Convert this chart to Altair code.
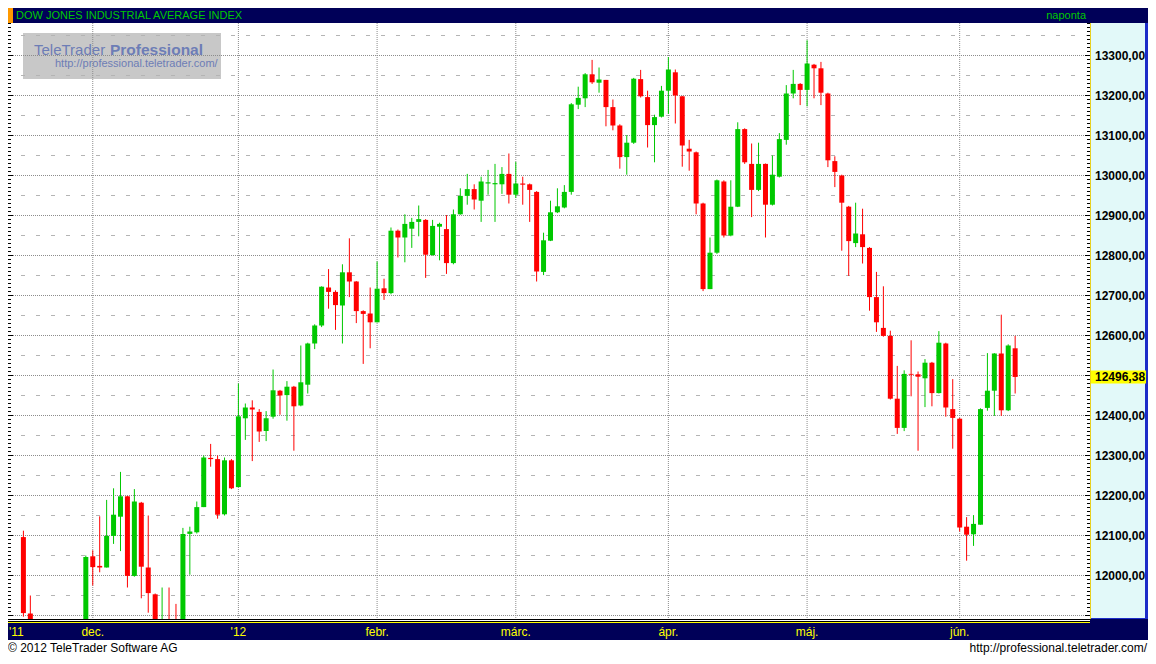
import altair as alt
import pandas as pd

# ---------------- data ----------------
dates = [
    "2011-11-16", "2011-11-17", "2011-11-18", "2011-11-21", "2011-11-22", "2011-11-23", "2011-11-25",
    "2011-11-28", "2011-11-29", "2011-11-30",
    "2011-12-01", "2011-12-02", "2011-12-05", "2011-12-06", "2011-12-07", "2011-12-08", "2011-12-09",
    "2011-12-12", "2011-12-13", "2011-12-14", "2011-12-15", "2011-12-16", "2011-12-19", "2011-12-20",
    "2011-12-21", "2011-12-22", "2011-12-23", "2011-12-27", "2011-12-28", "2011-12-29", "2011-12-30",
    "2012-01-03", "2012-01-04", "2012-01-05", "2012-01-06", "2012-01-09", "2012-01-10", "2012-01-11",
    "2012-01-12", "2012-01-13", "2012-01-17", "2012-01-18", "2012-01-19", "2012-01-20", "2012-01-23",
    "2012-01-24", "2012-01-25", "2012-01-26", "2012-01-27", "2012-01-30", "2012-01-31",
    "2012-02-01", "2012-02-02", "2012-02-03", "2012-02-06", "2012-02-07", "2012-02-08", "2012-02-09",
    "2012-02-10", "2012-02-13", "2012-02-14", "2012-02-15", "2012-02-16", "2012-02-17", "2012-02-21",
    "2012-02-22", "2012-02-23", "2012-02-24", "2012-02-27", "2012-02-28", "2012-02-29",
    "2012-03-01", "2012-03-02", "2012-03-05", "2012-03-06", "2012-03-07", "2012-03-08", "2012-03-09",
    "2012-03-12", "2012-03-13", "2012-03-14", "2012-03-15", "2012-03-16", "2012-03-19", "2012-03-20",
    "2012-03-21", "2012-03-22", "2012-03-23", "2012-03-26", "2012-03-27", "2012-03-28", "2012-03-29",
    "2012-03-30",
    "2012-04-02", "2012-04-03", "2012-04-04", "2012-04-05", "2012-04-09", "2012-04-10", "2012-04-11",
    "2012-04-12", "2012-04-13", "2012-04-16", "2012-04-17", "2012-04-18", "2012-04-19", "2012-04-20",
    "2012-04-23", "2012-04-24", "2012-04-25", "2012-04-26", "2012-04-27", "2012-04-30",
    "2012-05-01", "2012-05-02", "2012-05-03", "2012-05-04", "2012-05-07", "2012-05-08", "2012-05-09",
    "2012-05-10", "2012-05-11", "2012-05-14", "2012-05-15", "2012-05-16", "2012-05-17", "2012-05-18",
    "2012-05-21", "2012-05-22", "2012-05-23", "2012-05-24", "2012-05-25", "2012-05-29", "2012-05-30",
    "2012-05-31",
    "2012-06-01", "2012-06-04", "2012-06-05", "2012-06-06", "2012-06-07", "2012-06-08", "2012-06-11",
    "2012-06-12", "2012-06-13",
]

opens = [
    12096, 11905, 11770, 11794, 11545, 11490, 11258, 11232, 11518, 11559,
    12048, 12024, 12020, 12099, 12147, 12198, 11999, 12182, 12020, 11953, 11826, 11870, 11866, 11769,
    12104, 12108, 12171, 12294, 12291, 12153, 12288,
    12221, 12393, 12420, 12409, 12361, 12397, 12462, 12451, 12472, 12425, 12477, 12580, 12625, 12720,
    12709, 12675, 12758, 12735, 12661, 12655,
    12633, 12718, 12706, 12862, 12845, 12867, 12884, 12889, 12801, 12872, 12866, 12781, 12903, 12949,
    12966, 12937, 12980, 12978, 12978, 13004,
    12952, 12980, 12978, 12959, 12759, 12837, 12908, 12920, 12959, 13177, 13193, 13253, 13232, 13239,
    13171, 13125, 13046, 13082, 13241, 13196, 13126, 13147,
    13212, 13258, 13198, 13067, 13058, 12930, 12716, 12807, 12985, 12850, 12922, 13116, 13029, 12964,
    13029, 12927, 12997, 13089, 13205, 13229,
    13214, 13277, 13268, 13205, 13036, 13000, 12922, 12831, 12853, 12819, 12696, 12619, 12599, 12442,
    12369, 12504, 12503, 12493, 12532, 12456, 12580, 12416,
    12392, 12122, 12103, 12127, 12419, 12462, 12555, 12413, 12568,
]

highs = [
    12112, 11950, 11856, 11794, 11578, 11490, 11362, 11555, 11618, 12050,
    12063, 12148, 12189, 12218, 12259, 12199, 12216, 12184, 12150, 11955, 11970, 11970, 11929, 12119,
    12122, 12185, 12300, 12329, 12300, 12295, 12291,
    12480, 12430, 12438, 12416, 12411, 12515, 12464, 12486, 12474, 12575, 12582, 12628, 12723, 12766,
    12713, 12778, 12843, 12736, 12663, 12720,
    12785, 12742, 12870, 12865, 12903, 12894, 12925, 12891, 12889, 12882, 12901, 12915, 12968, 13004,
    12978, 12997, 13014, 13029, 13021, 13055,
    13034, 12997, 12980, 12961, 12857, 12937, 12968, 12976, 13181, 13222, 13256, 13289, 13270, 13239,
    13190, 13128, 13101, 13244, 13264, 13212, 13152, 13224,
    13296, 13265, 13199, 13089, 13060, 12932, 12845, 12990, 12988, 12988, 13133, 13118, 13080, 13082,
    13030, 13050, 13106, 13226, 13264, 13231,
    13338, 13279, 13284, 13207, 13048, 13002, 12924, 12932, 12917, 12821, 12759, 12723, 12612, 12524,
    12513, 12588, 12510, 12541, 12534, 12611, 12582, 12491,
    12394, 12146, 12151, 12418, 12556, 12556, 12652, 12578, 12599,
]

lows = [
    11897, 11735, 11758, 11456, 11453, 11256, 11231, 11232, 11475, 11559,
    11975, 12008, 12020, 12079, 12061, 11970, 11997, 11943, 11907, 11800, 11820, 11855, 11735, 11769,
    12002, 12105, 12171, 12272, 12142, 12150, 12216,
    12221, 12339, 12286, 12334, 12336, 12392, 12402, 12387, 12312, 12423, 12455, 12566, 12621, 12667,
    12614, 12580, 12696, 12631, 12529, 12568,
    12633, 12689, 12703, 12795, 12783, 12819, 12848, 12744, 12800, 12788, 12754, 12778, 12902, 12927,
    12915, 12884, 12952, 12884, 12954, 12930,
    12944, 12927, 12884, 12735, 12751, 12836, 12906, 12918, 12952, 13166, 13171, 13229, 13207, 13123,
    13113, 13017, 13002, 13079, 13195, 13070, 13033, 13145,
    13154, 13130, 13022, 13012, 12903, 12711, 12716, 12804, 12845, 12848, 12921, 13029, 12896, 12961,
    12845, 12925, 12995, 13077, 13193, 13176,
    13173, 13193, 13176, 13021, 12971, 12812, 12749, 12821, 12780, 12662, 12609, 12597, 12440, 12354,
    12361, 12448, 12312, 12421, 12423, 12455, 12397, 12317,
    12110, 12037, 12074, 12127, 12412, 12399, 12399, 12411, 12455,
]

closes = [
    11906, 11770, 11796, 11547, 11493, 11258, 11232, 11523, 11556, 12046,
    12021, 12020, 12099, 12152, 12198, 11999, 12185, 12022, 11956, 11824, 11869, 11866, 11766, 12104,
    12110, 12171, 12295, 12291, 12152, 12288, 12218,
    12398, 12420, 12415, 12360, 12393, 12463, 12450, 12472, 12423, 12483, 12580, 12625, 12722, 12709,
    12676, 12758, 12735, 12661, 12654, 12633,
    12717, 12706, 12862, 12845, 12879, 12884, 12891, 12802, 12874, 12879, 12781, 12903, 12949, 12966,
    12940, 12985, 12983, 12981, 13004, 12952,
    12980, 12977, 12964, 12760, 12838, 12908, 12923, 12959, 13178, 13194, 13253, 13233, 13240, 13171,
    13125, 13046, 13082, 13242, 13198, 13126, 13146, 13212,
    13265, 13200, 13075, 13060, 12930, 12716, 12807, 12988, 12850, 12922, 13116, 13033, 12964, 13029,
    12927, 13002, 13091, 13205, 13229, 13214,
    13280, 13268, 13207, 13038, 13009, 12932, 12836, 12855, 12821, 12696, 12633, 12599, 12442, 12369,
    12504, 12502, 12497, 12532, 12456, 12582, 12420, 12394,
    12120, 12102, 12129, 12416, 12462, 12555, 12413, 12575, 12496.38,
]

month_start_dates = ["2011-12-01", "2012-01-03", "2012-02-01", "2012-03-01",
                     "2012-04-02", "2012-05-01", "2012-06-01"]
month_names = ["dec.", "'12", "febr.", "márc.", "ápr.", "máj.", "jún."]
first_year_label = "'11"

y_label_values = [12000, 12100, 12200, 12300, 12400, 12600, 12700, 12800,
                  12900, 13000, 13100, 13200, 13300]
major_grid_values = [11900, 12000, 12100, 12200, 12300, 12400, 12500, 12600,
                     12700, 12800, 12900, 13000, 13100, 13200, 13300]
minor_grid_values = [11950, 12050, 12150, 12250, 12350, 12450, 12550, 12650,
                     12750, 12850, 12950, 13050, 13150, 13250, 13350]
last_value_label = "12496,38"

title_text = "DOW JONES INDUSTRIAL AVERAGE INDEX"
period_text = "naponta"
footer_left = "© 2012 TeleTrader Software AG"
footer_right = "http://professional.teletrader.com/"
wm_brand = "TeleTrader"
wm_product = "Professional"
wm_url = "http://professional.teletrader.com/"

# ---------------- layout / style ----------------
W, H = 1082, 596
PANEL = 58
TOP, BOTTOM = 15, 37
TW = W + PANEL

NAVY = "#000058"
GREEN = "#00c800"
RED = "#ff0000"
YELLOW = "#ffff00"
CYAN = "#e2f9f9"
BLUE = "#1c2cc8"
GRID = "#8c8c8c"
GRID2 = "#b4b4b4"
FONT = "Liberation Sans"

PX_PER_DAY = 7.0
PX_PER_UNIT = 0.4
x_scale = alt.Scale(domain=[-1.5, -1.5 + W / PX_PER_DAY], nice=False, zero=False)
y_top = 13381.25
y_scale = alt.Scale(domain=[y_top - H / PX_PER_UNIT, y_top], nice=False, zero=False)

df = pd.DataFrame({"date": dates, "open": opens, "high": highs, "low": lows, "close": closes})
df["i"] = range(len(df))
df["lo"] = df[["open", "close"]].min(axis=1)
df["hi"] = df[["open", "close"]].max(axis=1)
df["dir"] = ["up" if c >= o else "down" for o, c in zip(df["open"], df["close"])]

color = alt.Color("dir:N", scale=alt.Scale(domain=["up", "down"], range=[GREEN, RED]), legend=None)
X = alt.X("i:Q", scale=x_scale, axis=None)

one = pd.DataFrame({"k": [0]})


def box(x0, x1, y0, y1, col):
    return alt.Chart(one).mark_rect(color=col).encode(
        x=alt.value(x0), x2=alt.value(x1), y=alt.value(y0), y2=alt.value(y1))


def text(s, x, y, col, size, align="left", weight="normal", baseline="middle"):
    return alt.Chart(pd.DataFrame({"t": [s]})).mark_text(
        align=align, baseline=baseline, font=FONT, fontSize=size, fontWeight=weight, color=col
    ).encode(x=alt.value(x), y=alt.value(y), text="t:N")


layers = []

# watermark
layers.append(box(15, 213, 10, 56, "#c8c8c8"))
layers.append(text(wm_brand, 26, 32, "#6d7db6", 15, baseline="alphabetic"))
layers.append(text(wm_product, 102, 32, "#6d7db6", 15.5, weight="bold", baseline="alphabetic"))
layers.append(text(wm_url, 47, 44, "#6d7db6", 11, baseline="alphabetic"))

# grid
layers.append(alt.Chart(pd.DataFrame({"v": minor_grid_values})).mark_rule(
    color=GRID2, strokeWidth=1, strokeDash=[4, 11]).encode(y=alt.Y("v:Q", scale=y_scale, axis=None)))
layers.append(alt.Chart(pd.DataFrame({"v": major_grid_values})).mark_rule(
    color=GRID, strokeWidth=1, strokeDash=[1, 1]).encode(y=alt.Y("v:Q", scale=y_scale, axis=None)))

month_df = pd.DataFrame({"i": [dates.index(d) for d in month_start_dates], "name": month_names})
layers.append(alt.Chart(month_df).mark_rule(color=GRID, strokeWidth=1, strokeDash=[1, 1]).encode(x=X))

# candles
base = alt.Chart(df)
layers.append(base.mark_rule(strokeWidth=1, clip=True).encode(
    x=X, y=alt.Y("low:Q", scale=y_scale, axis=None), y2="high:Q", color=color))
layers.append(base.mark_bar(width=5, clip=True).encode(
    x=X, y=alt.Y("lo:Q", scale=y_scale, axis=None), y2="hi:Q", color=color))

# scale ticks (left edge and right edge of the plot)
tick_vals = list(range(11900, 13381, 10))
tick_df = pd.DataFrame({"v": tick_vals, "major": [v % 100 == 0 for v in tick_vals]})
for x0, x1, cond in [(0, 3, False), (0, 5, True), (W - 3, W, False), (W - 5, W, True)]:
    layers.append(alt.Chart(tick_df[tick_df["major"] == cond]).mark_rule(color="black", strokeWidth=1).encode(
        y=alt.Y("v:Q", scale=y_scale, axis=None), x=alt.value(x0), x2=alt.value(x1)))

# right value panel
layers.append(box(W, W + 1, 0, H, "#e8d020"))
layers.append(box(W + 1, TW - 3, 0, H - 1, CYAN))
layers.append(box(TW - 3, TW, 0, H, BLUE))
layers.append(box(W + 1, TW, H - 1, H, BLUE))

lab_df = pd.DataFrame({"v": y_label_values,
                       "t": [f"{v:.2f}".replace(".", ",") for v in y_label_values]})
layers.append(alt.Chart(lab_df).mark_text(
    align="left", baseline="middle", font=FONT, fontSize=12, fontWeight="bold", color="black"
).encode(y=alt.Y("v:Q", scale=y_scale, axis=None), x=alt.value(W + 5), text="t:N"))

last_df = pd.DataFrame({"v": [closes[-1]], "t": [last_value_label]})
layers.append(alt.Chart(last_df).mark_tick(orient="horizontal", color=YELLOW, thickness=13, size=55, opacity=1).encode(
    y=alt.Y("v:Q", scale=y_scale, axis=None), x=alt.value(W + 1 + 27.5)))
layers.append(alt.Chart(last_df).mark_text(
    align="left", baseline="middle", font=FONT, fontSize=12, fontWeight="bold", color="black"
).encode(y=alt.Y("v:Q", scale=y_scale, axis=None), x=alt.value(W + 5), text="t:N"))

# title bar
layers.append(box(0, TW, -TOP, 0, NAVY))
layers.append(box(0, 5, -TOP, 0, "#ff9900"))
layers.append(text(title_text, 8, -7, GREEN, 11))
layers.append(text(period_text, W - 4, -7, GREEN, 11, align="right"))

# bottom band
layers.append(box(0, W, H, H + 1, "black"))
layers.append(box(0, W, H + 1, H + 2, "white"))
layers.append(box(0, W, H + 2, H + 3, "black"))
layers.append(box(0, W, H + 3, H + 4, YELLOW))
layers.append(box(W, TW, H, H + 4, NAVY))
layers.append(box(0, TW, H + 4, H + 21, NAVY))
layers.append(alt.Chart(month_df).mark_text(
    align="center", baseline="middle", font=FONT, fontSize=12, color=YELLOW
).encode(x=X, y=alt.value(H + 12.5), text="name:N"))
layers.append(text(first_year_label, 1, H + 12.5, YELLOW, 12))

# footer
layers.append(text(footer_left, 0, H + 33, "black", 12, baseline="alphabetic"))
layers.append(text(footer_right, TW - 1, H + 33, "black", 12, align="right", baseline="alphabetic"))

chart = alt.layer(*layers).properties(
    width=W, height=H,
    padding={"left": 0, "top": TOP, "right": PANEL, "bottom": BOTTOM},
    autosize=alt.AutoSizeParams(type="none"),
    background="white",
).configure_view(strokeWidth=0)

chart.save("out.html", embed_options={"renderer": "svg", "actions": False})
